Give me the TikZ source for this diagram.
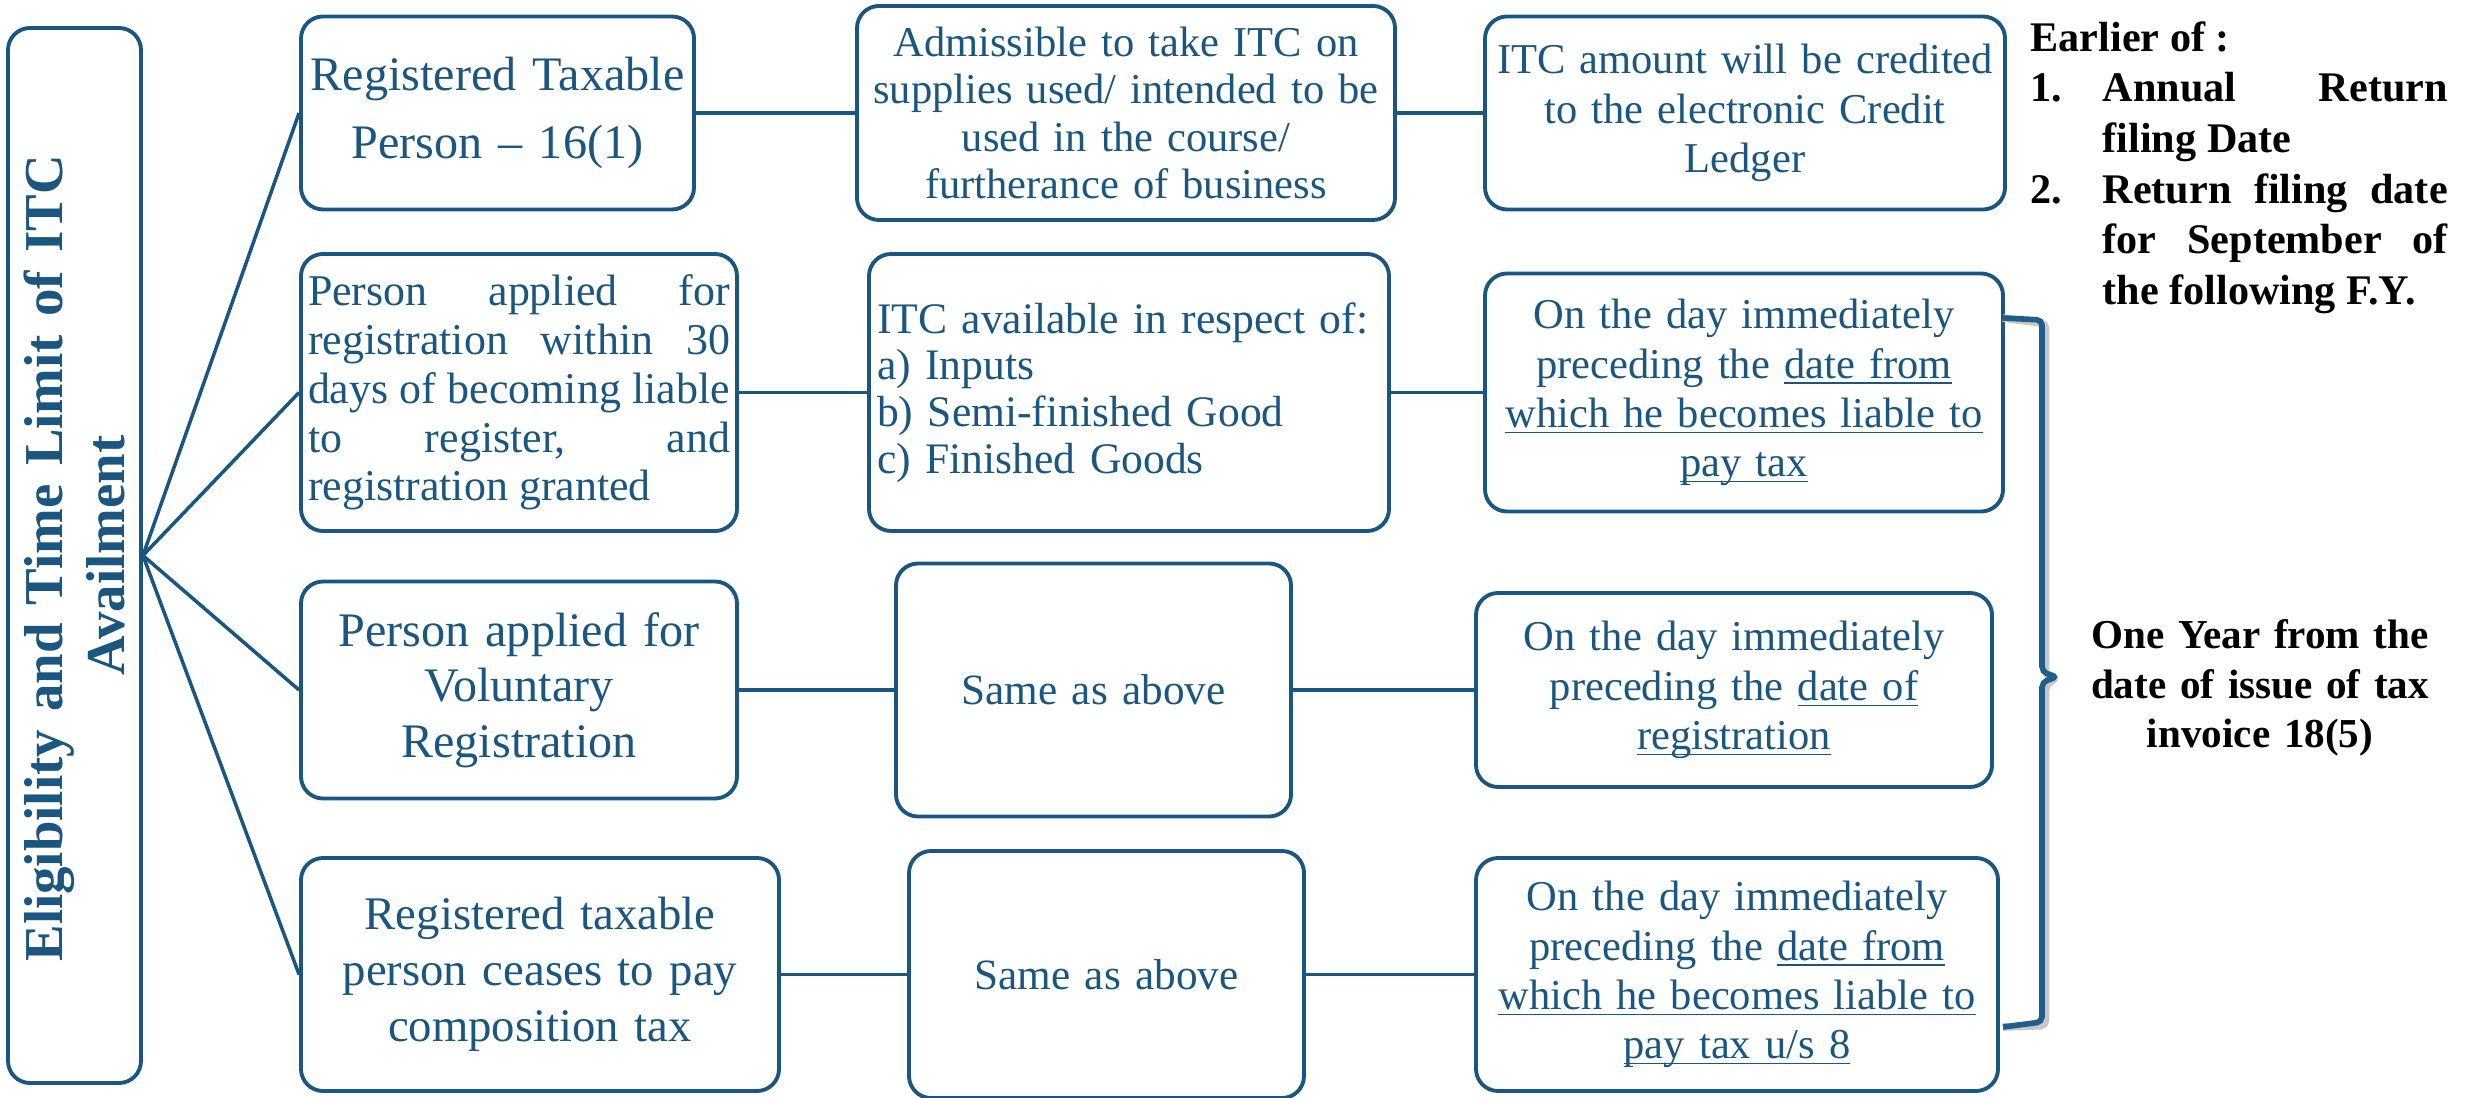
\documentclass[tikz,border=0pt]{standalone}
\usepackage{fontspec}
\setmainfont{Liberation Serif}
\usepackage{tikz}
\definecolor{itcblue}{HTML}{1B5680}
\definecolor{braceblue}{HTML}{1F5E8C}
\newcommand{\undl}[1]{\leavevmode\setbox0\hbox{#1}\rlap{\rule[-1.7pt]{\wd0}{0.45pt}}\box0}
\tikzset{
  itc box/.style   = {draw=itcblue, text=itcblue, line width=1.1pt,
                      rounded corners=0.22cm, inner sep=0pt, align=center,
                      font=\fontsize{12.1pt}{14pt}\selectfont},
  lead box/.style  = {itc box, font=\fontsize{13.7pt}{16pt}\selectfont},
  title box/.style = {itc box, rotate=90, align=center,
                      font=\bfseries\fontsize{15.6pt}{17.8pt}\selectfont},
  link/.style      = {itcblue, line width=1pt},
  brace line/.style   = {braceblue, line width=1.6pt, rounded corners=1.5pt},
  brace shadow/.style = {black!22, line width=2.2pt, rounded corners=1.5pt},
  note text/.style = {inner sep=0pt, text=black,
                      font=\bfseries\fontsize{12pt}{14.4pt}\selectfont},
}

\begin{document}
\begin{tikzpicture}
    \useasboundingbox (0,0) rectangle (24.69,-10.98);
    % left title
    \node[title box, minimum width=10.55cm, minimum height=1.33cm, text width=8.2cm]
      (title) at (0.745,-5.555)
      {\makebox[8.12cm][s]{Eligibility and Time Limit of ITC}\\Availment};
    % first column
    \node[lead box, minimum width=3.93cm, minimum height=1.93cm, text width=3.8cm,
          font=\fontsize{13.7pt}{19.3pt}\selectfont]
      (b1) at (4.975,-1.13) {Registered Taxable\\Person -- 16(1)};
    \node[itc box, minimum width=4.36cm, minimum height=2.77cm, text width=4.22cm,
          align=justify, font=\fontsize{12.5pt}{13.9pt}\selectfont]
      (b2) at (5.19,-3.925) {Person applied for\linebreak registration within 30\linebreak
        days of becoming liable\linebreak to register, and\linebreak registration granted};
    \node[lead box, minimum width=4.36cm, minimum height=2.17cm, text width=4.2cm,
          font=\fontsize{13.7pt}{15.8pt}\selectfont]
      (b3) at (5.19,-6.90) {Person applied for\\Voluntary\\Registration};
    \node[lead box, minimum width=4.78cm, minimum height=2.33cm, text width=4.6cm,
          font=\fontsize{13.3pt}{15.9pt}\selectfont]
      (b4) at (5.40,-9.745) {Registered taxable\\person ceases to pay\\composition tax};
    % second column
    \node[itc box, minimum width=5.38cm, minimum height=2.14cm, text width=5.2cm,
          font=\fontsize{12.1pt}{13.4pt}\selectfont]
      (c1) at (11.26,-1.13) {Admissible to take ITC on\\supplies used/ intended to be\\
        used in the course/\\furtherance of business};
    \node[itc box, minimum width=5.20cm, minimum height=2.77cm, text width=5.04cm,
          align=left, font=\fontsize{12.4pt}{13.3pt}\selectfont]
      (c2) at (11.29,-3.925) {ITC available in respect of:\\a) Inputs\\
        b) Semi-finished Good\\c) Finished Goods};
    \node[itc box, minimum width=3.95cm, minimum height=2.53cm, text width=3.8cm,
          font=\fontsize{12.3pt}{14pt}\selectfont]
      (c3) at (10.935,-6.90) {Same as above};
    \node[itc box, minimum width=3.95cm, minimum height=2.47cm, text width=3.8cm,
          font=\fontsize{12.3pt}{14pt}\selectfont]
      (c4) at (11.065,-9.745) {Same as above};
    % third column
    \node[itc box, minimum width=5.20cm, minimum height=1.93cm, text width=5.05cm]
      (d1) at (17.45,-1.13) {ITC amount will be credited\\to the electronic Credit\\Ledger};
    \node[itc box, minimum width=5.18cm, minimum height=2.38cm, text width=5.05cm]
      (d2) at (17.44,-3.925) {On the day immediately\\preceding the \undl{date from}\\
        \undl{which he becomes liable to}\\\undl{pay tax}};
    \node[itc box, minimum width=5.16cm, minimum height=1.94cm, text width=5.05cm]
      (d3) at (17.34,-6.90) {On the day immediately\\preceding the \undl{date of}\\
        \undl{registration}};
    \node[itc box, minimum width=5.22cm, minimum height=2.33cm, text width=5.05cm]
      (d4) at (17.37,-9.745) {On the day immediately\\preceding the \undl{date from}\\
        \undl{which he becomes liable to}\\\undl{pay tax u/s 8}};
    % connectors
    \foreach \row in {b1,b2,b3,b4}
      \draw[link] (title.south) -- (\row.west);
    \foreach \from/\to in {b1/c1,c1/d1,b2/c2,c2/d2,b3/c3,c3/d3,b4/c4,c4/d4}
      \draw[link] (\from.east) -- (\to.west);
    % brace on the right
    \coordinate (brace top) at (20.03,-3.18);
    \coordinate (brace tip) at (20.57,-6.77);
    \coordinate (brace end) at (20.03,-10.27);
    \draw[brace shadow, shift={(0.035,-0.035)}] (brace top) -- (20.42,-3.20) -- (20.42,-6.72)
      -- (brace tip) -- (20.42,-6.82) -- (20.42,-10.22) -- (brace end);
    \draw[brace line] (brace top) -- (20.42,-3.20) -- (20.42,-6.72)
      -- (brace tip) -- (20.42,-6.82) -- (20.42,-10.22) -- (brace end);
    % notes
    \node[note text, text width=4.17cm, align=justify, anchor=north west]
      (earlier) at (20.30,-0.21) {Earlier of :\par
      \hangindent=0.72cm\hangafter=1\noindent\makebox[0.72cm][l]{1.}Annual Return\linebreak
        filing Date\par
      \hangindent=0.72cm\hangafter=1\noindent\makebox[0.72cm][l]{2.}Return filing date\linebreak
        for September of\linebreak the following F.Y.\par};
    \node[note text, text width=3.6cm, align=center, font=\bfseries\fontsize{11.7pt}{14pt}\selectfont]
      (oneyear) at (22.60,-6.88) {One Year from the\\date of issue of tax\\invoice 18(5)};
\end{tikzpicture}
\end{document}
